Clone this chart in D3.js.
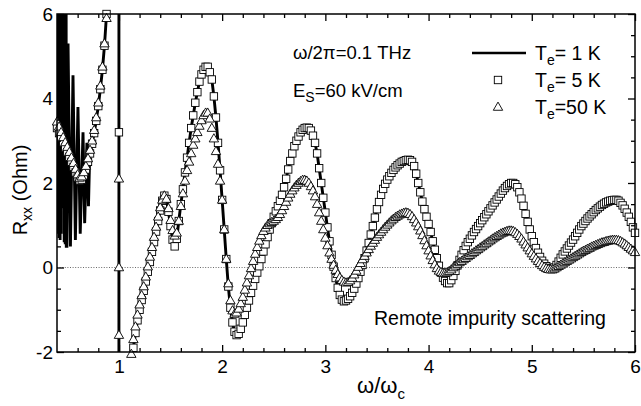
<!DOCTYPE html>
<html>
<head>
<meta charset="utf-8">
<script src="https://cdn.jsdelivr.net/npm/d3@7"></script>
<style>
  body { margin: 0; background: #fff; }
  svg { display: block; font-family: "Liberation Sans", Arial, Helvetica, sans-serif; }
</style>
</head>
<body>
<svg id="chart" width="641" height="406"></svg>
<script>
// ---------------- DATA ----------------
// sampling grid of the 5 K and 50 K curves (omega/omega_c)
const gridStart = 0.40, gridStep = 0.02, gridCount = 281;

// T_e = 5 K (squares), one value per grid point, null = off-scale
const r5K = [
  3.30, 3.18, 3.06, 2.95, 2.84, 2.73, 2.62, 2.50, 2.38, 2.25,
  2.13, 2.06, 2.08, 2.18, 2.32, 2.50, 2.70, 2.93, 3.18, 3.47,
  3.82, 4.22, 4.68, 5.25, 6.00, null, null, null, null, null,
  3.20, null, null, null, null, null, -2.50, -1.90, -1.55, -1.25,
  -1.00, -0.77, -0.55, -0.33, -0.10, 0.13, 0.37, 0.60, 0.85, 1.10,
  1.35, 1.58, 1.70, 1.62, 1.32, 0.98, 0.66, 0.50, 0.68, 1.10,
  1.50, 1.85, 2.25, 2.60, 2.95, 3.30, 3.60, 3.90, 4.15, 4.40,
  4.57, 4.68, 4.75, 4.75, 4.62, 4.45, 4.05, 3.55, 2.95, 2.30,
  1.60, 0.90, 0.20, -0.45, -0.95, -1.30, -1.52, -1.60, -1.57, -1.45,
  -1.30, -1.12, -0.95, -0.78, -0.60, -0.43, -0.27, -0.12, 0.03, 0.20,
  0.38, 0.55, 0.72, 0.90, 1.05, 1.20, 1.33, 1.45, 1.58, 1.72,
  1.90, 2.10, 2.32, 2.52, 2.70, 2.87, 3.00, 3.10, 3.20, 3.26,
  3.30, 3.31, 3.30, 3.24, 3.12, 2.95, 2.70, 2.35, 2.00, 1.65,
  1.30, 0.95, 0.62, 0.30, 0.02, -0.25, -0.48, -0.65, -0.76, -0.80,
  -0.78, -0.74, -0.68, -0.60, -0.50, -0.38, -0.25, -0.10, 0.06, 0.22,
  0.40, 0.58, 0.78, 0.98, 1.18, 1.38, 1.55, 1.72, 1.86, 1.98,
  2.08, 2.16, 2.24, 2.31, 2.37, 2.42, 2.46, 2.50, 2.52, 2.54,
  2.55, 2.54, 2.50, 2.40, 2.22, 2.00, 1.78, 1.56, 1.38, 1.20,
  1.03, 0.84, 0.62, 0.42, 0.22, 0.04, -0.12, -0.24, -0.32, -0.37,
  -0.37, -0.30, -0.20, -0.08, 0.05, 0.18, 0.30, 0.41, 0.51, 0.60,
  0.68, 0.76, 0.84, 0.91, 0.98, 1.05, 1.12, 1.19, 1.26, 1.33,
  1.40, 1.47, 1.54, 1.61, 1.68, 1.75, 1.82, 1.88, 1.93, 1.97,
  2.00, 2.00, 1.97, 1.90, 1.78, 1.63, 1.46, 1.27, 1.08, 0.90,
  0.74, 0.60, 0.46, 0.35, 0.25, 0.16, 0.09, 0.03, -0.01, -0.03,
  -0.03, 0.00, 0.06, 0.14, 0.23, 0.31, 0.38, 0.45, 0.52, 0.59,
  0.66, 0.74, 0.82, 0.90, 0.98, 1.04, 1.10, 1.16, 1.21, 1.26,
  1.31, 1.36, 1.40, 1.44, 1.48, 1.51, 1.54, 1.56, 1.58, 1.59,
  1.60, 1.60, 1.58, 1.53, 1.47, 1.39, 1.30, 1.20, 1.08, 0.95,
  0.82
];

// T_e = 50 K (triangles)
const r50K = [
  3.45, 3.33, 3.20, 3.08, 2.96, 2.85, 2.73, 2.60, 2.47, 2.33,
  2.20, 2.12, 2.15, 2.25, 2.40, 2.58, 2.78, 3.00, 3.25, 3.55,
  3.90, 4.30, 4.75, 5.30, 5.90, null, null, null, null, null,
  0.00, null, null, null, null, null, -2.05, -1.70, -1.40, -1.12,
  -0.88, -0.66, -0.45, -0.22, 0.02, 0.25, 0.48, 0.72, 0.96, 1.20,
  1.42, 1.60, 1.70, 1.62, 1.40, 1.12, 0.88, 0.75, 0.82, 1.10,
  1.45, 1.75, 2.05, 2.30, 2.50, 2.70, 2.90, 3.05, 3.20, 3.35,
  3.48, 3.60, 3.66, 3.66, 3.52, 3.30, 3.05, 2.75, 2.45, 2.05,
  1.60, 0.90, 0.20, -0.38, -0.78, -1.02, -1.10, -1.07, -0.98, -0.85,
  -0.70, -0.53, -0.36, -0.19, -0.02, 0.15, 0.32, 0.48, 0.63, 0.76,
  0.86, 0.94, 1.00, 1.04, 1.07, 1.10, 1.14, 1.19, 1.26, 1.35,
  1.45, 1.55, 1.65, 1.74, 1.82, 1.89, 1.95, 2.00, 2.04, 2.07,
  2.07, 2.05, 2.00, 1.92, 1.82, 1.68, 1.50, 1.30, 1.10, 0.90,
  0.70, 0.52, 0.35, 0.20, 0.06, -0.06, -0.16, -0.24, -0.30, -0.34,
  -0.36, -0.35, -0.31, -0.25, -0.17, -0.08, 0.01, 0.10, 0.19, 0.27,
  0.35, 0.43, 0.51, 0.58, 0.65, 0.72, 0.78, 0.84, 0.90, 0.96,
  1.01, 1.06, 1.11, 1.15, 1.19, 1.22, 1.25, 1.27, 1.29, 1.30,
  1.29, 1.26, 1.21, 1.14, 1.06, 0.97, 0.87, 0.76, 0.64, 0.52,
  0.40, 0.28, 0.17, 0.07, -0.02, -0.08, -0.11, -0.13, -0.13, -0.12,
  -0.09, -0.05, 0.00, 0.04, 0.08, 0.12, 0.15, 0.19, 0.22, 0.26,
  0.29, 0.33, 0.36, 0.40, 0.43, 0.47, 0.50, 0.54, 0.57, 0.61,
  0.64, 0.68, 0.71, 0.74, 0.77, 0.80, 0.82, 0.84, 0.86, 0.87,
  0.87, 0.86, 0.83, 0.79, 0.74, 0.68, 0.61, 0.54, 0.47, 0.40,
  0.33, 0.27, 0.21, 0.15, 0.10, 0.05, 0.01, -0.02, -0.04, -0.05,
  -0.05, -0.03, 0.00, 0.03, 0.06, 0.09, 0.12, 0.15, 0.18, 0.21,
  0.24, 0.27, 0.30, 0.33, 0.36, 0.39, 0.41, 0.44, 0.46, 0.49,
  0.51, 0.53, 0.55, 0.57, 0.59, 0.60, 0.62, 0.63, 0.64, 0.65,
  0.65, 0.65, 0.64, 0.62, 0.59, 0.56, 0.52, 0.48, 0.44, 0.40,
  0.36
];

// extra 50 K points sampled right at the resonance
const res50X = [1.0, 1.0];
const res50Y = [2.10, -1.60];

// T_e = 1 K (solid line): low-field oscillations and the resonance;
// above omega/omega_c = 1.12 it coincides with the 5 K curve
const r1KX = [0.400, 0.405, 0.410, 0.415, 0.420, 0.425, 0.430, 0.435, 0.440, 0.445,
              0.450, 0.455, 0.460, 0.465, 0.470, 0.475, 0.480, 0.485, 0.490, 0.496,
              0.507, 0.530, 0.555, 0.578, 0.603, 0.625, 0.652, 0.668, 0.690, 0.705,
              0.716, 0.740, 0.760, 0.780, 0.800, 0.820, 0.840, 0.860, 0.880, 0.920,
              0.960, 0.990, 0.9995, 1.0005, 1.010, 1.050, 1.100];
const r1KY = [4.0, 30, 0.80, 30, 0.70, 30, 0.65, 30, 0.80, 25,
              1.40, 25, 1.50, 25, 0.60, 20, 0.55, 20, 0.50, 0.50,
              5.30, 0.50, 4.55, 0.65, 3.80, 0.80, 3.20, 1.05, 2.95, 1.45,
              2.60, 2.93, 3.18, 3.47, 3.82, 4.22, 4.68, 5.25, 6.00, 8.0,
              12.0, 40, 300, -300, -40, -8.0, -2.80];
const r1KJoin = 1.12;

const xTicks = [1, 2, 3, 4, 5, 6];
const yTicks = [-2, 0, 2, 4, 6];
const legendLabels = ["1 K", "5 K", "50 K"];

// ---------------- CHART ----------------
const svg = d3.select("#chart");
const L = 57, R = 635, T = 14, B = 352;
const x = d3.scaleLinear().domain([0.4, 6]).range([L, R]);
const y = d3.scaleLinear().domain([-2, 6]).range([B, T]);

const grid = d3.range(gridCount).map(i => +(gridStart + i * gridStep).toFixed(3));
const pts5 = grid.map((g, i) => [g, r5K[i]]).filter(d => d[1] !== null);
const pts50 = grid.map((g, i) => [g, r50K[i]]).filter(d => d[1] !== null)
  .concat(res50X.map((g, i) => [g, res50Y[i]]));
const line1 = r1KX.map((g, i) => [g, r1KY[i]])
  .concat(pts5.filter(d => d[0] >= r1KJoin - 1e-9));

const inRange = d => d[1] >= -2.1 && d[1] <= 6.1;

svg.append("defs").append("clipPath").attr("id", "clip")
  .append("rect").attr("x", L).attr("y", T).attr("width", R - L).attr("height", B - T);

// zero line
svg.append("line")
  .attr("x1", L).attr("x2", R).attr("y1", y(0)).attr("y2", y(0))
  .attr("stroke", "#444").attr("stroke-width", 0.8).attr("stroke-dasharray", "1,1.6");

// 1 K line
svg.append("path")
  .datum(line1)
  .attr("clip-path", "url(#clip)")
  .attr("fill", "none").attr("stroke", "#000").attr("stroke-width", 2.9)
  .attr("stroke-linejoin", "miter").attr("stroke-miterlimit", 2)
  .attr("d", d3.line().x(d => x(d[0])).y(d => y(d[1])));

// markers
const sq = 7.4;
svg.append("g").selectAll("rect")
  .data(pts5.filter(inRange)).join("rect")
  .attr("x", d => x(d[0]) - sq / 2).attr("y", d => y(d[1]) - sq / 2)
  .attr("width", sq).attr("height", sq)
  .attr("fill", "#fff").attr("stroke", "#000").attr("stroke-width", 0.9);

const triPath = (cx, cy) => {
  const w = 4.7, h = 8.2;
  return `M${cx},${cy - h * 0.6}L${cx + w},${cy + h * 0.4}L${cx - w},${cy + h * 0.4}Z`;
};
svg.append("g").selectAll("path")
  .data(pts50.filter(inRange)).join("path")
  .attr("d", d => triPath(x(d[0]), y(d[1])))
  .attr("fill", "#fff").attr("stroke", "#000").attr("stroke-width", 0.9);

// axes
const fs = 19;
const fmt = d => String(d);
const minorX = d3.range(0.6, 6.0001, 0.2).map(v => +v.toFixed(2)).filter(v => !xTicks.includes(v));
const minorY = d3.range(-2, 6.0001, 0.5).filter(v => !yTicks.includes(v));

function styleAxis(g) {
  g.select(".domain").remove();
  g.selectAll("line").attr("stroke", "#000").attr("stroke-width", 1.3);
  g.selectAll("text").attr("font-size", fs).attr("fill", "#000")
    .attr("font-family", "'Liberation Sans', Arial, sans-serif");
}
svg.append("g").attr("transform", `translate(0,${B})`)
  .call(d3.axisBottom(x).tickValues(xTicks).tickSize(-7).tickPadding(7.5).tickFormat(fmt)).call(styleAxis);
svg.append("g").attr("transform", `translate(0,${B})`)
  .call(d3.axisBottom(x).tickValues(minorX).tickSize(-4).tickFormat("")).call(styleAxis);
svg.append("g").attr("transform", `translate(0,${T})`)
  .call(d3.axisTop(x).tickValues(xTicks).tickSize(-7).tickFormat("")).call(styleAxis);
svg.append("g").attr("transform", `translate(0,${T})`)
  .call(d3.axisTop(x).tickValues(minorX).tickSize(-4).tickFormat("")).call(styleAxis);
svg.append("g").attr("transform", `translate(${L},0)`)
  .call(d3.axisLeft(y).tickValues(yTicks).tickSize(-7).tickPadding(4).tickFormat(fmt)).call(styleAxis);
svg.append("g").attr("transform", `translate(${L},0)`)
  .call(d3.axisLeft(y).tickValues(minorY).tickSize(-4).tickFormat("")).call(styleAxis);
svg.append("g").attr("transform", `translate(${R},0)`)
  .call(d3.axisRight(y).tickValues(yTicks).tickSize(-7).tickFormat("")).call(styleAxis);
svg.append("g").attr("transform", `translate(${R},0)`)
  .call(d3.axisRight(y).tickValues(minorY).tickSize(-4).tickFormat("")).call(styleAxis);

svg.append("rect").attr("x", L).attr("y", T).attr("width", R - L).attr("height", B - T)
  .attr("fill", "none").attr("stroke", "#000").attr("stroke-width", 1.5);

// axis titles
const xt = svg.append("text").attr("x", 357).attr("y", 393).attr("font-size", 22).attr("fill", "#000");
xt.append("tspan").text("ω/ω");
xt.append("tspan").attr("font-size", 15).attr("dy", 6).text("c");

const yt = svg.append("text").attr("transform", "translate(27,190) rotate(-90)")
  .attr("text-anchor", "middle").attr("font-size", 20).attr("fill", "#000");
yt.append("tspan").text("R");
yt.append("tspan").attr("font-size", 14).attr("dy", 5).text("xx");
yt.append("tspan").attr("dy", -5).text(" (Ohm)");

// annotations
svg.append("text").attr("x", 293).attr("y", 59).attr("font-size", 18.5).attr("fill", "#000")
  .text("ω/2π=0.1 THz");
const es = svg.append("text").attr("x", 293).attr("y", 97).attr("font-size", 18.5).attr("fill", "#000");
es.append("tspan").text("E");
es.append("tspan").attr("font-size", 14).attr("dy", 5).text("S");
es.append("tspan").attr("dy", -5).text("=60 kV/cm");

svg.append("text").attr("x", 374).attr("y", 325).attr("font-size", 19.5).attr("fill", "#000")
  .text("Remote impurity scattering");

// legend
const legY = [53, 80, 107];
svg.append("line").attr("x1", 472).attr("x2", 526).attr("y1", legY[0]).attr("y2", legY[0])
  .attr("stroke", "#000").attr("stroke-width", 2.6);
svg.append("rect").attr("x", 498 - sq / 2).attr("y", legY[1] - sq / 2).attr("width", sq).attr("height", sq)
  .attr("fill", "#fff").attr("stroke", "#000").attr("stroke-width", 0.9);
svg.append("path").attr("d", triPath(498, legY[2]))
  .attr("fill", "#fff").attr("stroke", "#000").attr("stroke-width", 0.9);
legendLabels.forEach((lab, i) => {
  const t = svg.append("text").attr("x", 535).attr("y", legY[i] + 7).attr("font-size", 19.5).attr("fill", "#000");
  t.append("tspan").text("T");
  t.append("tspan").attr("font-size", 14).attr("dy", 5).text("e");
  t.append("tspan").attr("dy", -5).text("=" + (lab.length < 4 ? " " : "") + lab);
});
</script>
</body>
</html>
